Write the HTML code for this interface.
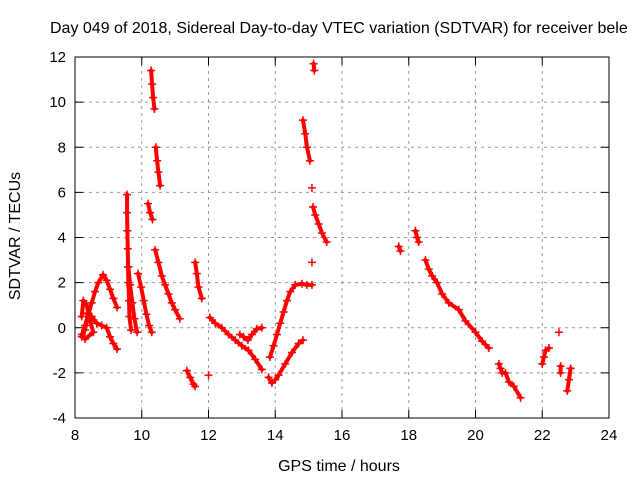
<!DOCTYPE html>
<html><head><meta charset="utf-8"><style>
body{margin:0;background:#fff}
svg{display:block}
text{font-family:"Liberation Sans",sans-serif;fill:#000}
</style></head><body>
<svg id="chart" width="640" height="480" xmlns="http://www.w3.org/2000/svg">
<rect width="640" height="480" fill="#fff"/>
<text x="50" y="33" font-size="16">Day 049 of 2018, Sidereal Day-to-day VTEC variation (SDTVAR) for receiver bele</text>
<text transform="translate(20,236) rotate(-90)" font-size="16" text-anchor="middle">SDTVAR / TECUs</text>
<text x="339" y="471" font-size="16" text-anchor="middle">GPS time / hours</text>
<g id="grid"></g><g id="ticks"></g><g id="marks"></g>
<rect x="75" y="57" width="534" height="361" fill="none" stroke="#000" stroke-width="1"/>
</svg>
<script>
const xTicks=[8,10,12,14,16,18,20,22,24];
const yTicks=[-4,-2,0,2,4,6,8,10,12];
const segA=[[8.2,-0.4],[8.3,0.1],[8.4,0.6],[8.5,1.1],[8.6,1.6],[8.7,2.0],[8.84,2.35],[8.95,2.1],[9.05,1.7],[9.15,1.3],[9.26,0.9]];
const segB=[[8.2,-0.3],[8.3,-0.1],[8.39,0.65],[8.5,0.5],[8.65,0.2],[8.8,0.1],[8.95,0.0],[9.05,-0.4],[9.15,-0.7],[9.26,-0.95]];
const segC=[[8.2,0.5],[8.25,1.2],[8.35,1.0],[8.45,0.3],[8.55,-0.2],[8.3,-0.5]];
const segD=[[9.56,5.9],[9.56,5.1],[9.57,4.3],[9.58,3.5],[9.59,2.7],[9.6,2.0],[9.62,1.2],[9.63,0.5],[9.68,-0.1]];
const segE=[[9.6,2.7],[9.65,1.9],[9.72,1.1],[9.78,0.4],[9.86,-0.2]];
const segF=[[9.89,2.4],[9.98,1.8],[10.06,1.2],[10.14,0.6],[10.22,0.1],[10.3,-0.2]];
const segG=[[10.19,5.5],[10.25,5.1],[10.32,4.8]];
const segH=[[10.4,3.45],[10.5,2.9],[10.6,2.3],[10.7,1.9],[10.8,1.5],[10.9,1.1],[11.0,0.8],[11.14,0.4]];
const segI=[[10.28,11.4],[10.31,10.8],[10.34,10.2],[10.38,9.7]];
const segJ=[[10.42,8.0],[10.46,7.4],[10.5,6.9],[10.55,6.3]];
const segK=[[11.6,2.9],[11.65,2.4],[11.7,1.8],[11.8,1.3]];
const segL=[[11.35,-1.9],[11.45,-2.2],[11.55,-2.5],[11.6,-2.6]];
const segM=[[12.0,-2.1]];
const segN=[[12.04,0.45],[12.2,0.2],[12.4,0.0],[12.6,-0.3],[12.8,-0.55],[13.0,-0.8],[13.2,-1.0],[13.4,-1.4],[13.6,-1.85]];
const segO=[[12.94,-0.3],[13.05,-0.4],[13.18,-0.55],[13.3,-0.3],[13.45,-0.05],[13.6,0.0]];
const segP=[[13.84,-1.3],[13.95,-0.8],[14.05,-0.3],[14.15,0.2],[14.25,0.7],[14.35,1.2],[14.45,1.6],[14.6,1.9],[14.8,1.95],[14.95,1.9],[15.1,1.9]];
const segQ=[[13.8,-2.2],[13.9,-2.45],[14.0,-2.3],[14.1,-2.1],[14.3,-1.6],[14.5,-1.1],[14.7,-0.7],[14.83,-0.55]];
const segR=[[14.83,9.2],[14.9,8.6],[14.95,8.0],[15.04,7.4]];
const segS=[[15.1,6.2]];
const segT=[[15.13,5.35],[15.2,5.0],[15.3,4.6],[15.4,4.2],[15.54,3.8]];
const segU=[[15.1,2.9]];
const segV=[[15.15,11.7],[15.17,11.4]];
const segW=[[17.7,3.6],[17.75,3.4]];
const segX=[[18.2,4.3],[18.25,4.0],[18.3,3.8]];
const segY=[[18.5,3.0],[18.6,2.6],[18.7,2.3],[18.85,2.0],[19.0,1.5],[19.2,1.1],[19.5,0.8],[19.7,0.3],[20.0,-0.2],[20.2,-0.6],[20.4,-0.9]];
const segZ=[[20.7,-1.6],[20.75,-1.8],[20.8,-2.0],[20.9,-2.0],[21.0,-2.4],[21.15,-2.6],[21.35,-3.1]];
const segAA=[[22.0,-1.6],[22.05,-1.3],[22.1,-1.0],[22.2,-0.9]];
const segAB=[[22.5,-0.2]];
const segAC=[[22.55,-1.7],[22.55,-2.0]];
const segAD=[[22.75,-2.8],[22.8,-2.3],[22.85,-1.8]];
const segments=[segA,segB,segC,segD,segE,segF,segG,segH,segI,segJ,segK,segL,segM,segN,segO,segP,segQ,segR,segS,segT,segU,segV,segW,segX,segY,segZ,segAA,segAB,segAC,segAD];
const NS="http://www.w3.org/2000/svg";
const X0=75,X1=609,Y0=418,Y1=57;
function xs(v){return X0+(v-8)/16*(X1-X0);}
function ys(v){return Y0-(v+4)/16*(Y0-Y1);}
function mk(t,a,p){const e=document.createElementNS(NS,t);for(const k in a)e.setAttribute(k,a[k]);p.appendChild(e);return e;}
const grid=document.getElementById('grid'),ticks=document.getElementById('ticks'),marks=document.getElementById('marks');
xTicks.forEach(v=>{const x=xs(v);
 if(v>8&&v<24){const g=mk('line',{x1:x,x2:x,y1:Y1,y2:Y0,stroke:'#999','stroke-dasharray':'3,4'},grid);
 
 }
 mk('line',{x1:x,x2:x,y1:Y0,y2:Y0-8,stroke:'#000'},ticks);
 mk('line',{x1:x,x2:x,y1:Y1,y2:Y1+8,stroke:'#000'},ticks);
 const t=mk('text',{x:x,y:Y0+22,'font-size':'15','text-anchor':'middle'},ticks);t.textContent=v;
 
 });
yTicks.forEach(v=>{const y=ys(v);
 if(v>-4&&v<12){const g=mk('line',{x1:X0,x2:X1,y1:y,y2:y,stroke:'#999','stroke-dasharray':'3,4'},grid);
 
 }
 mk('line',{x1:X0,x2:X0+8,y1:y,y2:y,stroke:'#000'},ticks);
 mk('line',{x1:X1,x2:X1-8,y1:y,y2:y,stroke:'#000'},ticks);
 const t=mk('text',{x:X0-9,y:y+5,'font-size':'15','text-anchor':'end'},ticks);t.textContent=v;
 
 });
segments.forEach(seg=>{
 if(seg.length>1){const pl=mk('polyline',{points:seg.map(p=>xs(p[0])+','+ys(p[1])).join(' '),fill:'none',stroke:'#f00','stroke-width':'4','stroke-linejoin':'round','stroke-linecap':'round'},marks);
 
 }
 seg.forEach(p=>{const x=xs(p[0]),y=ys(p[1]);
  const g=mk('path',{d:`M${x-4},${y}H${x+4}M${x},${y-4}V${y+4}`,stroke:'#f00','stroke-width':'1.5'},marks);
  
  });
});
</script>
</body></html>
